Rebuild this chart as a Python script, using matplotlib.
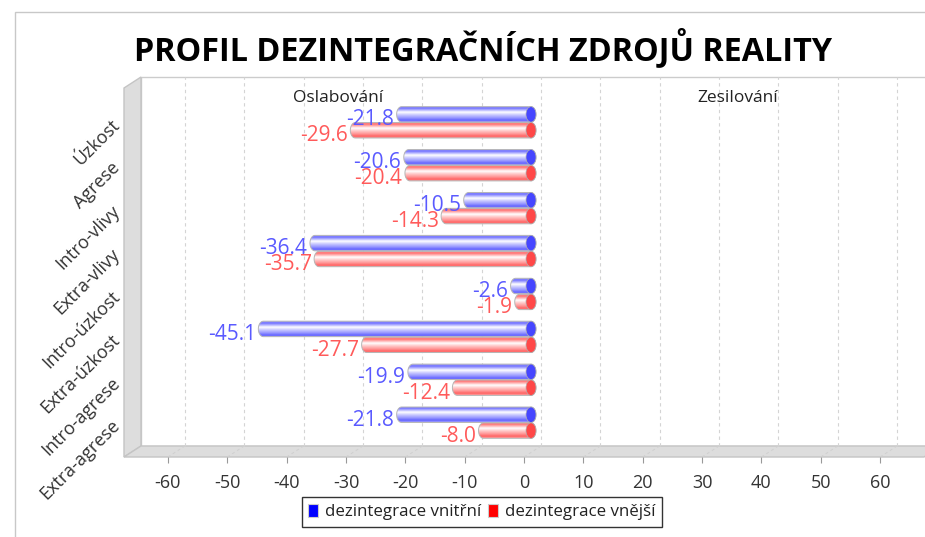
import numpy as np
import matplotlib
matplotlib.use("Agg")
import matplotlib.pyplot as plt
from matplotlib.patches import Polygon, Rectangle, Ellipse, PathPatch, Patch
from matplotlib.path import Path
from matplotlib.transforms import ScaledTranslation, IdentityTransform

plt.rcParams['font.family'] = ['Open Sans', 'DejaVu Sans']

# data
categories = ["Úzkost", "Agrese", "Intro-vlivy", "Extra-vlivy",
              "Intro-úzkost", "Extra-úzkost", "Intro-agrese", "Extra-agrese"]
vnitrni = [-21.8, -20.6, -10.5, -36.4, -2.6, -45.1, -19.9, -21.8]
vnejsi = [-29.6, -20.4, -14.3, -35.7, -1.9, -27.7, -12.4, -8.0]
series_names = ["dezintegrace vnitřní", "dezintegrace vnější"]
x_ticks = list(range(-60, 61, 10))
side_labels = ["Oslabování", "Zesilování"]
side_label_x = [-31.3, 36.1]
title = "PROFIL DEZINTEGRAČNÍCH ZDROJŮ REALITY"

W, H, DPI = 925, 537, 100
DX, DY = 17, 11          # hloubka 3D efektu v pixelech
XMAX = 67.4

fig = plt.figure(figsize=(W / DPI, H / DPI), dpi=DPI)
fig.patch.set_facecolor("white")
ax = fig.add_axes([124 / W, (H - 457) / H, 800 / W, 369 / H])
ax.patch.set_visible(False)
for s in ax.spines.values():
    s.set_visible(False)
ax.set_xlim(-XMAX, XMAX)
ax.set_ylim(7.8, -0.8)

ux = 2 * XMAX / 800.0    # jednotek osy x na pixel
depth = ScaledTranslation(DX / DPI, DY / DPI, fig.dpi_scale_trans)

# 3D steny: zadni stena, leva stena, podlaha
front = ax.transAxes.transform([(0, 0), (1, 0), (1, 1), (0, 1)])
d = np.array([DX, DY])
back = front + d
ident = IdentityTransform()
ax.add_patch(Polygon(back, closed=True, fc="white", ec="#cccccc", lw=1,
                     transform=ident, clip_on=False, zorder=0))
ax.add_patch(Polygon([front[0], front[3], back[3], back[0]], closed=True,
                     fc="#dddddd", ec="#c4c4c4", lw=1,
                     transform=ident, clip_on=False, zorder=0.2))
ax.add_patch(Polygon([front[0], front[1], back[1], back[0]], closed=True,
                     fc="#dddddd", ec="#c4c4c4", lw=1,
                     transform=ident, clip_on=False, zorder=0.2))

# mrizka na zadni stene + sikme cary na podlaze
for t in x_ticks:
    ax.plot([t, t], [0, 1], transform=ax.get_xaxis_transform() + depth,
            color="#d4d4d4", lw=0.8, ls=(0, (3, 3)), clip_on=False, zorder=0.5)
    p0 = ax.get_xaxis_transform().transform((t, 0))
    ax.plot([p0[0], p0[0] + DX], [p0[1], p0[1] + DY], transform=ident,
            color="#cfcfcf", lw=0.7, ls=(0, (3, 3)), clip_on=False, zorder=0.3)


def shade(base, n=64):
    # pruhy valce: barva -> bila -> barva
    stops = [0.0, 0.12, 0.38, 0.55, 0.75, 0.9, 1.0]
    whites = [0.45, 0.2, 1.0, 0.7, 0.4, 0.12, 0.45]
    s = np.linspace(0, 1, n)
    w = np.interp(s, stops, whites)[:, None]
    rgb = np.array(base)[None, :] * (1 - w) + w
    return rgb[:, None, :]


def cylinder(value, yc, base, cap, txt_color):
    shift = 7 * ux
    a = 5 * ux
    b = 0.18
    x0, x1 = value + shift, shift
    t = np.linspace(0, np.pi, 30)
    verts = [(x1, yc - b), (x0, yc - b)]
    verts += list(zip(x0 - a * np.sin(t), yc - b * np.cos(t)))
    verts += [(x1, yc + b)]
    verts += list(zip(x1 + a * np.sin(t), yc + b * np.cos(t)))
    verts += [(x1, yc - b)]
    outline = PathPatch(Path(verts), fc="none", ec="#b5b5b5", lw=0.7, zorder=2.5)
    ax.add_patch(outline)
    im = ax.imshow(shade(base), extent=(x0 - a, x1 + a, yc + b, yc - b),
                   origin="upper", aspect="auto", interpolation="bilinear", zorder=2)
    im.set_clip_path(outline)
    ax.add_patch(Ellipse((x1, yc), 2 * a, 2 * b, fc=cap, ec="#b0b0b0", lw=0.5, zorder=3))
    ax.annotate(f"{value:.1f}", xy=(x0 - a, yc), xytext=(-1.8, -8),
                textcoords="offset points", ha="right", va="baseline",
                fontsize=15, color=txt_color, zorder=4)


for i, cat in enumerate(categories):
    cylinder(vnitrni[i], i - 0.185, (0.3, 0.3, 1.0), "#4646ff", "#5a5aff")
    cylinder(vnejsi[i], i + 0.185, (1.0, 0.3, 0.3), "#ff4848", "#ff5a5a")

for lbl, xv in zip(side_labels, side_label_x):
    ax.text(xv, -0.57, lbl, ha="center", va="center", fontsize=12.5, color="#222222")

ax.set_xticks(x_ticks)
ax.set_xticklabels([str(t) for t in x_ticks])
ax.tick_params(axis="x", length=4, width=0.8, color="#999999", pad=8,
               labelsize=13, labelcolor="#333333")
ax.set_yticks(range(len(categories)))
ax.set_yticklabels(categories, rotation=45, ha="right", va="center",
                   rotation_mode="anchor", fontsize=13, color="#333333")
ax.tick_params(axis="y", length=0, pad=5)
ax.set_xlim(-XMAX, XMAX)
ax.set_ylim(7.8, -0.8)

fig.text(483 / W, 1 - 60 / H, title, ha="center", va="baseline",
         fontsize=23.3, fontweight="bold", color="black")

handles = [Patch(fc="#0000ff", ec="#cccccc", lw=0.8),
           Patch(fc="#ff0000", ec="#cccccc", lw=0.8)]
leg = fig.legend(handles, series_names, loc="center",
                 bbox_to_anchor=(482 / W, 1 - 512 / H), ncol=2, frameon=True,
                 fancybox=False, edgecolor="#333333", framealpha=1,
                 fontsize=12.2, handlelength=0.6, handleheight=0.85,
                 handletextpad=0.4, columnspacing=0.4, borderpad=0.4,
                 borderaxespad=0)
leg.get_frame().set_linewidth(1.0)
for t in leg.get_texts():
    t.set_color("#222222")

# ramecek kolem celeho grafu
fig.add_artist(Rectangle((15 / W, -0.1), 1.0, 1.1 - 12 / H, transform=fig.transFigure,
                         fill=False, ec="#c8c8c8", lw=1))

fig.savefig("out.png", dpi=DPI)
